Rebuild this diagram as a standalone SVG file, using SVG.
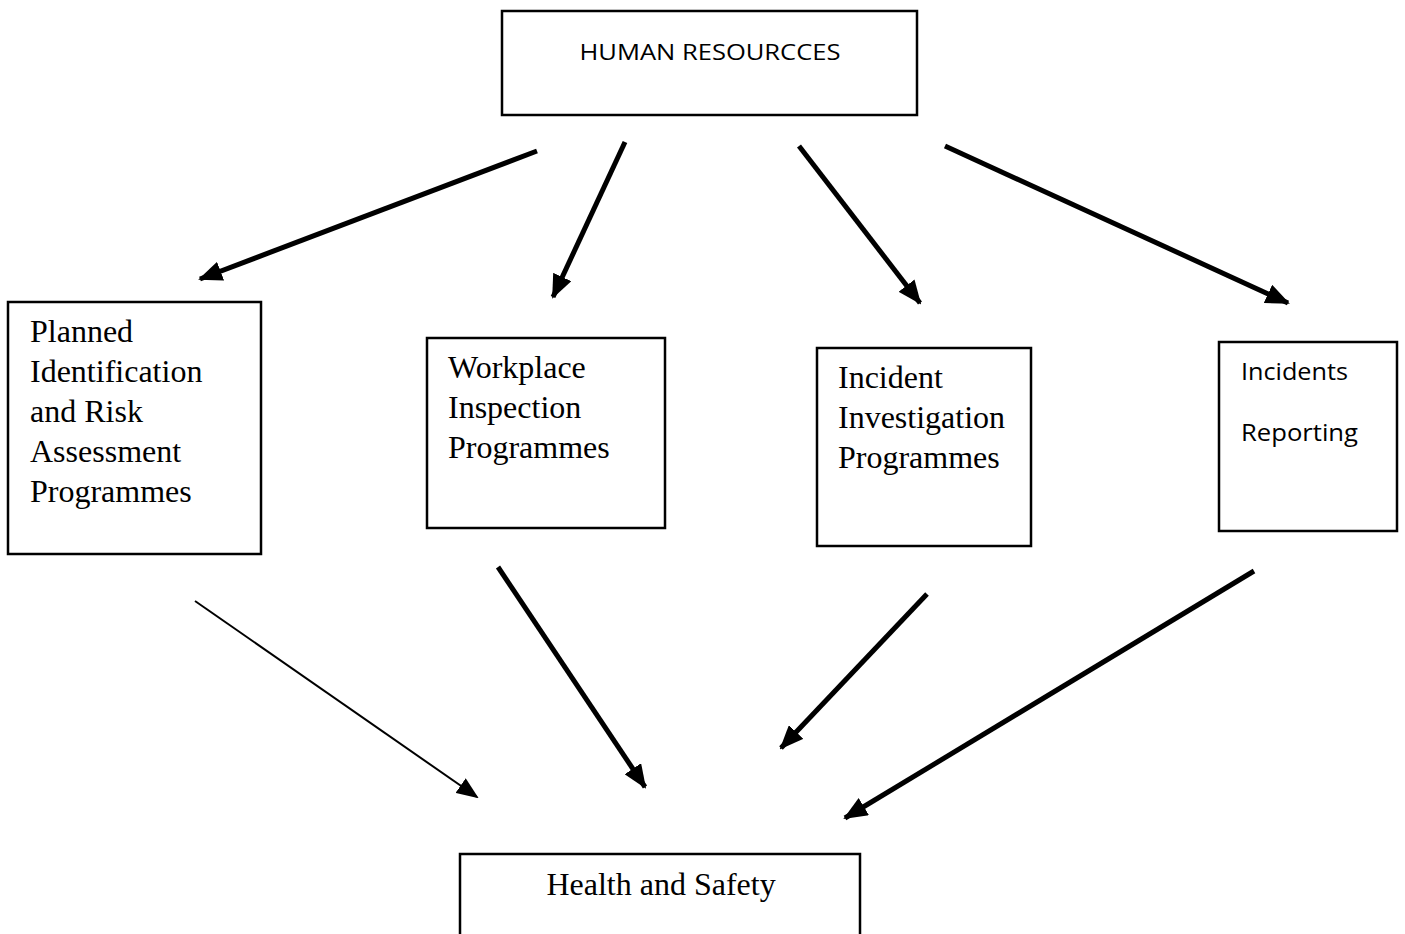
<svg xmlns="http://www.w3.org/2000/svg" width="1405" height="934" viewBox="0 0 1405 934">
<defs>
<style>
.box{fill:#fff;stroke:#000;stroke-width:2.5}
.serif{font-family:"Liberation Serif","Times New Roman",serif;font-size:32px;fill:#000}
.sans{font-family:"Open Sans","Liberation Sans",sans-serif;fill:#000}
.c{stroke:#000;stroke-width:5;fill:none}
.thin{stroke:#000;stroke-width:2;fill:none}
</style>
<marker id="ah" markerUnits="userSpaceOnUse" markerWidth="24" markerHeight="20" viewBox="0 0 24 20" refX="22" refY="10" orient="auto">
<path d="M0,0 L24,10 L0,20 z" fill="#000"/>
</marker>
<marker id="ahs" markerUnits="userSpaceOnUse" markerWidth="22" markerHeight="18" viewBox="0 0 22 18" refX="20" refY="9" orient="auto">
<path d="M0,0 L22,9 L0,18 z" fill="#000"/>
</marker>
</defs>
<rect width="1405" height="934" fill="#fff"/>
<g id="hr">
<rect class="box" x="502" y="11" width="415" height="104"/>
<text class="sans" x="710" y="60" font-size="22" text-anchor="middle" textLength="261" lengthAdjust="spacingAndGlyphs">HUMAN RESOURCCES</text>
</g>
<g id="planned">
<rect class="box" x="8" y="302" width="253" height="252"/>
<text class="serif" x="30" y="342">Planned</text>
<text class="serif" x="30" y="382">Identification</text>
<text class="serif" x="30" y="422">and Risk</text>
<text class="serif" x="30" y="462">Assessment</text>
<text class="serif" x="30" y="502">Programmes</text>
</g>
<g id="workplace">
<rect class="box" x="427" y="338" width="238" height="190"/>
<text class="serif" x="448" y="378">Workplace</text>
<text class="serif" x="448" y="418">Inspection</text>
<text class="serif" x="448" y="458">Programmes</text>
</g>
<g id="incident">
<rect class="box" x="817" y="348" width="214" height="198"/>
<text class="serif" x="838" y="388">Incident</text>
<text class="serif" x="838" y="428">Investigation</text>
<text class="serif" x="838" y="468">Programmes</text>
</g>
<g id="reporting">
<rect class="box" x="1219" y="342" width="178" height="189"/>
<text class="sans" x="1241" y="380" font-size="24" textLength="107" lengthAdjust="spacingAndGlyphs">Incidents</text>
<text class="sans" x="1241" y="441" font-size="24" textLength="117" lengthAdjust="spacingAndGlyphs">Reporting</text>
</g>
<g id="health">
<rect class="box" x="460" y="854" width="400" height="90"/>
<text class="serif" x="661" y="895" text-anchor="middle">Health and Safety</text>
</g>
<g id="connectors">
<line class="c" x1="537" y1="151" x2="200" y2="279" marker-end="url(#ah)"/>
<line class="c" x1="625" y1="142" x2="553" y2="297" marker-end="url(#ah)"/>
<line class="c" x1="799" y1="146" x2="920" y2="303" marker-end="url(#ah)"/>
<line class="c" x1="945" y1="146" x2="1288" y2="303" marker-end="url(#ah)"/>
<line class="thin" x1="195" y1="601" x2="477" y2="797" marker-end="url(#ahs)"/>
<line class="c" x1="498" y1="567" x2="645" y2="787" marker-end="url(#ah)"/>
<line class="c" x1="927" y1="594" x2="781" y2="748" marker-end="url(#ah)"/>
<line class="c" x1="1254" y1="571" x2="845" y2="818" marker-end="url(#ah)"/>
</g>
</svg>
